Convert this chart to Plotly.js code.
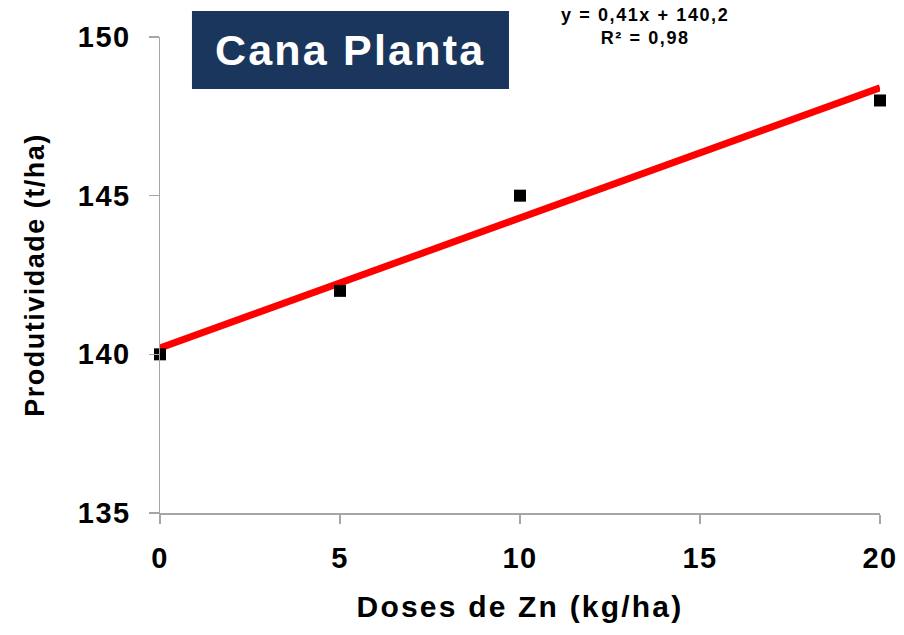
<!DOCTYPE html>
<html>
<head>
<meta charset="utf-8">
<script src="https://cdn.plot.ly/plotly-3.0.1.min.js"></script>
<style>
  html, body { margin: 0; padding: 0; background: #ffffff; }
  #chart { width: 904px; height: 635px; }
</style>
</head>
<body>
<div id="chart"></div>
<script>
// Zinc doses applied and the resulting cane yield
const doses = [0, 5, 10, 20];
const yieldTha = [140, 142, 145, 148];

// Linear trend stated on the chart: y = 0,41x + 140,2 (R² = 0,98)
const trendSlope = 0.41;
const trendIntercept = 140.2;
const trendX = [0, 20];
const trendY = trendX.map(x => trendSlope * x + trendIntercept);

const xTicks = [0, 5, 10, 15, 20];
const yTicks = [135, 140, 145, 150];

const FONT = 'Liberation Sans, Arial, sans-serif';
const AXIS_GRAY = '#a6a6a6';

// Slightly widened lettering for the chart's labels
const spaced = (s, px) => '<span style="letter-spacing:' + px + 'px">' + s + '</span>';

const traces = [
  {
    x: trendX, y: trendY, type: 'scatter', mode: 'lines',
    line: { color: '#ff0000', width: 7 },
    hoverinfo: 'skip', cliponaxis: false, showlegend: false
  },
  {
    x: doses, y: yieldTha, type: 'scatter', mode: 'markers',
    marker: { symbol: 'square', size: 12, color: '#000000' },
    cliponaxis: false, showlegend: false
  }
];

const layout = {
  width: 904, height: 635,
  margin: { l: 160, r: 24, t: 37, b: 122 },
  paper_bgcolor: '#ffffff', plot_bgcolor: '#ffffff',
  showlegend: false,
  xaxis: {
    range: [0, 20], tickvals: xTicks, ticktext: xTicks.map(v => spaced(String(v), 1.5)),
    showline: true, linecolor: AXIS_GRAY, linewidth: 1.5,
    ticks: 'outside', ticklen: 9, tickwidth: 1.5, tickcolor: AXIS_GRAY,
    showgrid: false, zeroline: false,
    ticklabelstandoff: 10,
    tickfont: { family: FONT, size: 29, color: '#000000', weight: 'bold' },
    title: {
      text: spaced('Doses de Zn (kg/ha)', 2.2),
      font: { family: FONT, size: 30, color: '#000000', weight: 'bold' },
      standoff: 22
    }
  },
  yaxis: {
    range: [135, 150], tickvals: yTicks, ticktext: yTicks.map(v => spaced(String(v), 1.5)),
    showline: true, linecolor: AXIS_GRAY, linewidth: 1.5,
    ticks: 'outside', ticklen: 10, tickwidth: 1.5, tickcolor: AXIS_GRAY,
    showgrid: false, zeroline: false,
    ticklabelstandoff: 12,
    tickfont: { family: FONT, size: 29, color: '#000000', weight: 'bold' },
    title: {
      text: spaced('Produtividade (t/ha)', 1.5),
      font: { family: FONT, size: 27, color: '#000000', weight: 'bold' },
      standoff: 25
    }
  },
  shapes: [
    {
      type: 'rect', xref: 'paper', yref: 'paper',
      x0: 0.0444, x1: 0.4847, y0: 0.8908, y1: 1.0546,
      fillcolor: '#1b365d', line: { width: 0 }, layer: 'above'
    }
  ],
  annotations: [
    {
      xref: 'paper', yref: 'paper', x: 0.2639, y: 0.9727,
      xanchor: 'center', yanchor: 'middle', showarrow: false,
      text: spaced('Cana Planta', 2.2),
      font: { family: FONT, size: 43, color: '#ffffff', weight: 'bold' }
    },
    {
      xref: 'paper', yref: 'paper', x: 0.674, y: 1.023,
      xanchor: 'center', yanchor: 'middle', showarrow: false,
      align: 'center',
      text: spaced('y = 0,41x + 140,2', 1.6) + '<br>' + spaced('R² = 0,98', 1.6),
      font: { family: FONT, size: 18, color: '#000000', weight: 'bold' }
    }
  ]
};

Plotly.newPlot('chart', traces, layout, { displayModeBar: false, staticPlot: true });
</script>
</body>
</html>
